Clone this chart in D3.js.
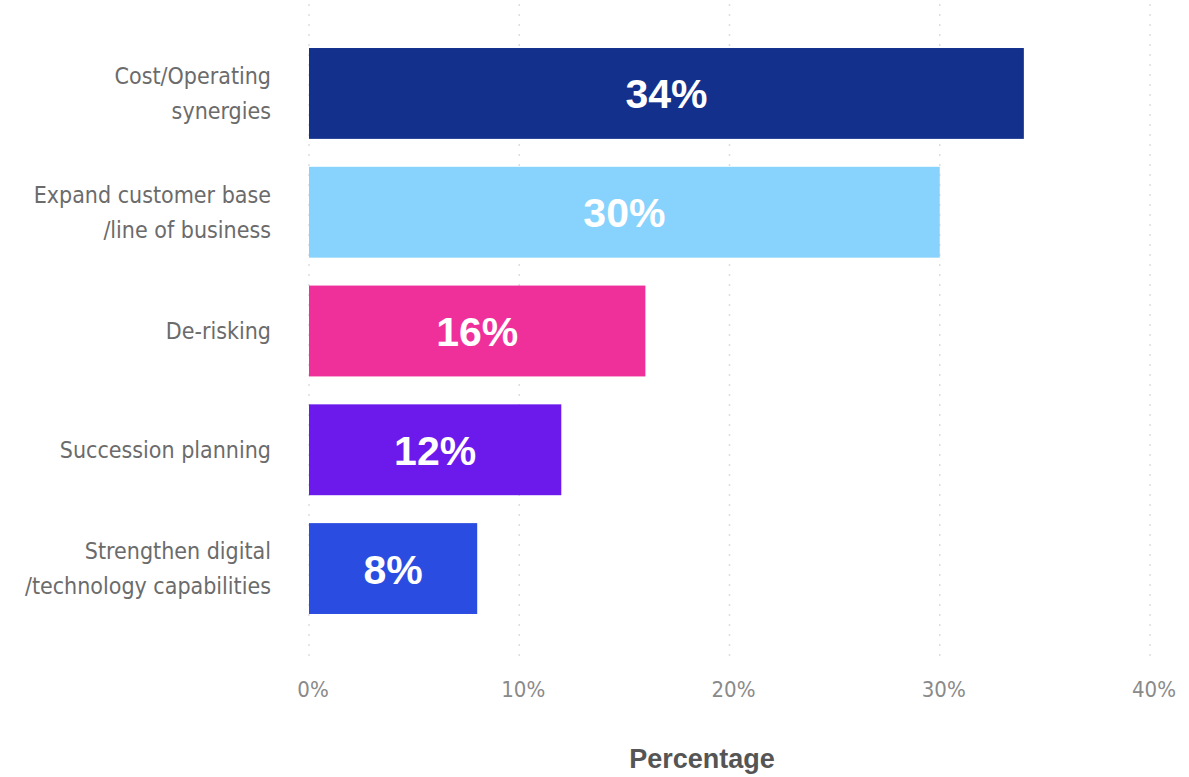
<!DOCTYPE html>
<html>
<head>
<meta charset="utf-8">
<script src="https://cdn.jsdelivr.net/npm/d3@7"></script>
<style>
  html, body { margin: 0; padding: 0; background: #fff; }
  svg { display: block; }
</style>
</head>
<body>
<svg id="chart"></svg>
<script>
const categories = [
  ["Cost/Operating", "synergies"],
  ["Expand customer base", "/line of business"],
  ["De-risking"],
  ["Succession planning"],
  ["Strengthen digital", "/technology capabilities"]
];
const values = [34, 30, 16, 12, 8];
const barColors = ["#13318c", "#87d3fd", "#f0309a", "#6c1aec", "#2b4ce0"];
const tickValues = [0, 10, 20, 30, 40];
const axisTitle = "Percentage";

const width = 1189, height = 777;
const svg = d3.select("#chart").attr("width", width).attr("height", height);

const x = d3.scaleLinear().domain([0, 40]).range([309, 1150]);
const y = d3.scaleBand()
  .domain(d3.range(values.length))
  .range([34, 628])
  .paddingInner(0.235)
  .paddingOuter(0.118);

const labelFont = "'Liberation Sans Narrow', 'DejaVu Sans Condensed', 'Roboto', sans-serif";

// dotted gridlines
svg.append("g")
  .selectAll("line")
  .data(tickValues)
  .join("line")
  .attr("x1", d => x(d))
  .attr("x2", d => x(d))
  .attr("y1", 4)
  .attr("y2", 662)
  .attr("stroke", "#dedede")
  .attr("stroke-width", 1.5)
  .attr("stroke-dasharray", "2,8");

// tick labels
svg.append("g")
  .selectAll("text")
  .data(tickValues)
  .join("text")
  .attr("x", d => x(d) + 4)
  .attr("y", 697)
  .attr("text-anchor", "middle")
  .style("font-family", labelFont)
  .style("font-size", "22px")
  .style("fill", "#8a8a8a")
  .text(d => d + "%");

// bars
svg.append("g")
  .selectAll("rect")
  .data(values)
  .join("rect")
  .attr("x", x(0))
  .attr("y", (d, i) => y(i))
  .attr("width", d => x(d) - x(0))
  .attr("height", y.bandwidth())
  .attr("fill", (d, i) => barColors[i]);

// value labels
svg.append("g")
  .selectAll("text")
  .data(values)
  .join("text")
  .attr("x", d => (x(0) + x(d)) / 2)
  .attr("y", (d, i) => y(i) + y.bandwidth() / 2 + 15)
  .attr("text-anchor", "middle")
  .style("font-family", "'Liberation Sans', Arial, sans-serif")
  .style("font-weight", "bold")
  .style("font-size", "41px")
  .style("fill", "#fff")
  .text(d => d + "%");

// category labels
const cat = svg.append("g")
  .selectAll("text")
  .data(categories)
  .join("text")
  .attr("text-anchor", "end")
  .style("font-family", labelFont)
  .style("font-size", "23px")
  .style("fill", "#6b6b6b");

cat.each(function (lines, i) {
  const cy = y(i) + y.bandwidth() / 2;
  const lh = 35;
  const start = cy + 8 - (lines.length - 1) * lh / 2;
  d3.select(this).selectAll("tspan")
    .data(lines)
    .join("tspan")
    .attr("x", 271)
    .attr("y", (d, j) => start + j * lh)
    .text(d => d);
});

// axis title
svg.append("text")
  .attr("x", 702)
  .attr("y", 768)
  .attr("text-anchor", "middle")
  .style("font-family", "'Liberation Sans', Arial, sans-serif")
  .style("font-weight", "bold")
  .style("font-size", "27px")
  .style("fill", "#555")
  .text(axisTitle);
</script>
</body>
</html>
